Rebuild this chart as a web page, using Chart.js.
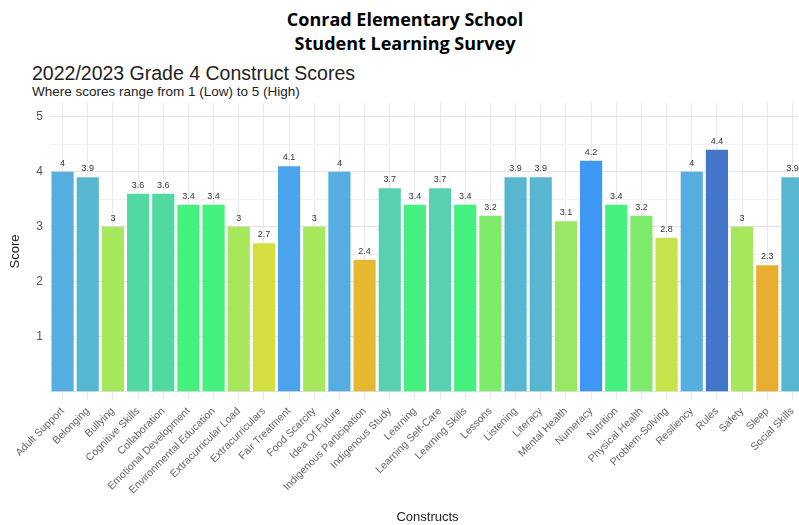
<!DOCTYPE html>
<html>
<head>
<meta charset="utf-8">
<script src="https://cdn.jsdelivr.net/npm/chart.js@4/dist/chart.umd.min.js"></script>
<style>
  html, body { margin: 0; padding: 0; background: #fff; overflow: hidden; width: 799px; height: 525px; }
  #wrap { position: relative; width: 799px; height: 525px; overflow: hidden; }
  canvas { position: absolute; left: 0; top: 0; }
  .hdr { position: absolute; left: 0; width: 810px; text-align: center; font-family: "Open Sans", sans-serif; font-weight: 700; font-size: 18px; color: #000; line-height: 22px; }
  .ttl { position: absolute; left: 32px; font-family: "Liberation Sans", Arial, sans-serif; color: #222; white-space: nowrap; }
</style>
</head>
<body>
<div id="wrap">
  <div class="hdr" style="top:8px;">Conrad Elementary School</div>
  <div class="hdr" style="top:32px;">Student Learning Survey</div>
  <div class="ttl" style="top:61px; font-size:19.5px; line-height:24px;">2022/2023 Grade 4 Construct Scores</div>
  <div class="ttl" style="top:83px; font-size:13.5px; line-height:17px;">Where scores range from 1 (Low) to 5 (High)</div>
  <canvas id="c" width="815" height="525"></canvas>
</div>
<script>
const categories = [
  "Adult Support", "Belonging", "Bullying", "Cognitive Skills", "Collaboration",
  "Emotional Development", "Environmental Education", "Extracurricular Load", "Extracurriculars",
  "Fair Treatment", "Food Scarcity", "Idea Of Future", "Indigenous Participation", "Indigenous Study",
  "Learning", "Learning Self-Care", "Learning Skills", "Lessons", "Listening", "Literacy",
  "Mental Health", "Numeracy", "Nutrition", "Physical Health", "Problem-Solving", "Resiliency",
  "Rules", "Safety", "Sleep", "Social Skills"
];
const scores = [
  4, 3.9, 3, 3.6, 3.6,
  3.4, 3.4, 3, 2.7,
  4.1, 3, 4, 2.4, 3.7,
  3.4, 3.7, 3.4, 3.2, 3.9, 3.9,
  3.1, 4.2, 3.4, 3.2, 2.8, 4,
  4.4, 3, 2.3, 3.9
];
const yTickValues = [1, 2, 3, 4, 5];

// colour scale keyed by score (style only)
const scoreColors = {
  "2.3": "#E8AE2F", "2.4": "#E6B832", "2.7": "#D3DF40", "2.8": "#C6E34B",
  "3": "#A7E75B", "3.1": "#98E863", "3.2": "#7EEA6B", "3.4": "#45F07E",
  "3.6": "#52D9A2", "3.7": "#58D0B1", "3.9": "#57B7D0", "4": "#56AEE0",
  "4.1": "#4BA3EE", "4.2": "#3D98F4", "4.4": "#4276C8"
};

const valueLabels = {
  id: 'valueLabels',
  afterDatasetsDraw(chart) {
    const ctx = chart.ctx;
    const meta = chart.getDatasetMeta(0);
    ctx.save();
    ctx.font = '9px "Liberation Sans", Arial, sans-serif';
    ctx.fillStyle = '#333';
    ctx.textAlign = 'center';
    ctx.textBaseline = 'bottom';
    meta.data.forEach((el, i) => {
      ctx.fillText(String(scores[i]), el.x, el.y - 4);
    });
    ctx.restore();
  }
};

new Chart(document.getElementById('c'), {
  type: 'bar',
  data: {
    labels: categories,
    datasets: [{
      data: scores,
      backgroundColor: scores.map(v => scoreColors[String(v)]),
      borderWidth: 0,
      barPercentage: 0.88,
      categoryPercentage: 1.0
    }]
  },
  options: {
    responsive: false,
    animation: false,
    layout: { padding: { top: 103, right: 10, left: 0, bottom: 0 } },
    plugins: {
      legend: { display: false },
      tooltip: { enabled: false },
      title: { display: false }
    },
    scales: {
      x: {
        offset: true,
        grid: { offset: false, color: '#e9e9e9', lineWidth: 1, drawTicks: false },
        border: { display: false },
        ticks: {
          autoSkip: false, minRotation: 45, maxRotation: 45, padding: 5,
          color: '#666',
          font: { family: '"Liberation Sans", Arial, sans-serif', size: 10.5 }
        },
        title: {
          display: true, text: 'Constructs', color: '#222',
          font: { family: '"Liberation Sans", Arial, sans-serif', size: 13 },
          padding: { top: 0, bottom: 0 }
        },
        afterFit(scale) { scale.height = 125; }
      },
      y: {
        min: -0.15, max: 5.25,
        afterBuildTicks(scale) {
          const t = [];
          for (let v = 0; v <= 5; v += 0.5) t.push({ value: v });
          scale.ticks = t;
        },
        grid: {
          drawTicks: false,
          color: ctx => (ctx.tick && Number.isInteger(ctx.tick.value)) ? '#e2e2e2' : '#f0f0f0',
          lineWidth: 1
        },
        border: { display: false },
        ticks: {
          padding: 7, color: '#555',
          font: { family: '"Liberation Sans", Arial, sans-serif', size: 12 },
          callback: (v) => (yTickValues.includes(v) ? String(v) : '')
        },
        title: {
          display: true, text: 'Score', color: '#222',
          font: { family: '"Liberation Sans", Arial, sans-serif', size: 13 },
          padding: { top: 8, bottom: 0 }
        },
        afterFit(scale) { scale.width = 50; }
      }
    }
  },
  plugins: [valueLabels]
});
</script>
</body>
</html>
